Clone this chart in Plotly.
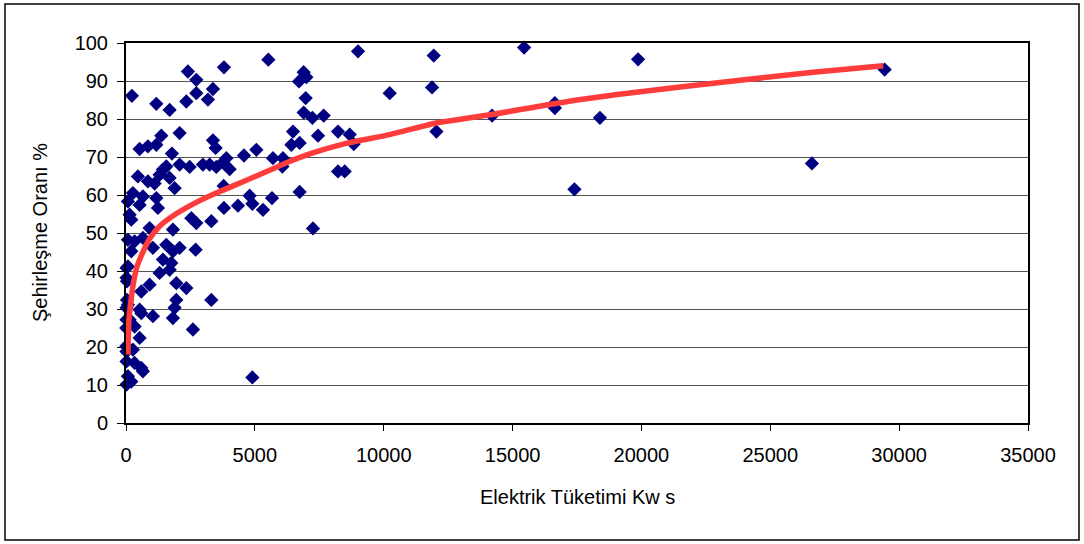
import plotly.graph_objects as go

# Scatter data (Elektrik Tüketimi Kw s vs Şehirleşme Oranı %)
x_kwh = [229, 2403, 2729, 3801, 5524, 2729, 3374, 3180, 2341, 1176, 1693,
         6894, 7000, 6713, 6972, 6894, 9003, 11941, 10233, 11875, 12046,
         7231, 7671, 7451, 8227, 8681, 8836, 6480, 6417, 6739, 8227, 8486,
         6739, 7255, 528, 850, 1176, 1370, 2081, 1782, 3374, 3478, 4577,
         5058, 3894, 3762, 4022, 2081, 2469, 2985, 3245, 3505, 462, 850,
         1432, 1564, 1304, 1693, 1887, 1110, 5703, 6091, 6068, 3789, 4798,
         4903, 4344, 3801, 5315, 5665, 74, 268, 656, 528, 1176, 1238, 140,
         206, 916, 2535, 2729, 3311, 1821, 74, 334, 656, 206, 1044, 1564,
         2081, 1821, 2702, 1432, 1758, 1693, 1304, 20, 74, 20, 40, 916, 594,
         1953, 2341, 1953, 1887, 1821, 3311, 2597, 40, 74, 20, 528, 594,
         1044, 20, 140, 10, 334, 528, 10, 20, 268, 20, 334, 594, 656, 74,
         206, 20, 4903, 14205, 16640, 16640, 17400, 18390, 19870, 15447,
         26616, 29437]
y_pct = [86.1, 92.5, 90.3, 93.6, 95.6, 86.8, 87.9, 85.1, 84.6, 84.0, 82.4,
         92.3, 91.0, 89.9, 85.5, 81.7, 97.8, 96.7, 86.8, 88.3, 76.7,
         80.3, 80.9, 75.6, 76.7, 75.9, 73.4, 76.7, 73.2, 73.7, 66.2, 66.2,
         60.8, 51.2, 72.1, 72.8, 73.2, 75.6, 76.3, 70.9, 74.4, 72.4, 70.4,
         71.9, 69.7, 68.6, 66.8, 68.0, 67.4, 68.0, 68.0, 67.4, 64.9, 63.6,
         66.7, 67.5, 65.3, 64.5, 61.8, 63.0, 69.7, 69.7, 67.5, 62.4, 59.8,
         57.7, 57.2, 56.6, 56.1, 59.2, 58.3, 60.5, 59.6, 57.4, 59.2, 56.6, 54.8,
         53.5, 51.3, 53.9, 52.6, 53.1, 50.9, 48.2, 47.8, 48.7, 45.2, 46.1, 46.9,
         46.1, 45.2, 45.6, 43.0, 42.1, 40.3, 39.5, 40.8, 41.2, 38.2, 37.3, 36.4, 34.6,
         36.8, 35.5, 32.4, 30.3, 27.6, 32.4, 24.6, 32.4, 31.1, 30.3, 29.8, 28.9,
         28.1, 27.2, 27.2, 25.0, 25.4, 22.4, 20.2, 18.8, 19.3, 16.2, 15.8, 14.5, 13.6, 12.3,
         10.9, 10.1, 12.0, 80.9, 84.2, 82.9, 61.5, 80.3, 95.7, 98.8,
         68.3, 93.0]

# Trend line points
trend_x = [75, 113, 190, 268, 420, 656, 916, 1305, 1887, 2600, 3500, 4538,
           5500, 6347, 7128, 8500, 10232, 12000, 14115, 17500, 21750, 26667,
           29383]
trend_y = [18, 27, 32, 36, 41, 45, 48.5, 51.8, 54.8, 57.6, 60.5, 63.5,
           66.3, 68.8, 70.8, 73.5, 75.9, 78.9, 81.1, 85.0, 88.6, 92.3, 94.0]

x_ticks = [0, 5000, 10000, 15000, 20000, 25000, 30000, 35000]
y_ticks = [0, 10, 20, 30, 40, 50, 60, 70, 80, 90, 100]

FONT = "Arial, 'Liberation Sans', sans-serif"

fig = go.Figure()
fig.add_trace(go.Scatter(
    x=x_kwh, y=y_pct, mode="markers",
    marker=dict(symbol="diamond", size=11, color="#000080", line=dict(width=0)),
    cliponaxis=False, showlegend=False))
fig.add_trace(go.Scatter(
    x=trend_x, y=trend_y, mode="lines",
    line=dict(color="rgb(255,60,60)", width=5.5, shape="spline", smoothing=0.6),
    cliponaxis=False, showlegend=False))

fig.update_layout(
    width=1084, height=544,
    margin=dict(l=126, r=56, t=43, b=121),
    paper_bgcolor="white", plot_bgcolor="white",
    font=dict(family=FONT, size=20, color="black"),
    xaxis=dict(range=[0, 35000], tickvals=x_ticks,
               ticktext=[str(v) for v in x_ticks],
               ticks="outside", ticklen=6, tickcolor="black", tickwidth=1,
               showline=True, linecolor="black", linewidth=2, mirror=True,
               showgrid=False, zeroline=False, ticklabelstandoff=7),
    yaxis=dict(range=[0, 100], tickvals=y_ticks,
               ticktext=[str(v) for v in y_ticks],
               ticks="outside", ticklen=7, tickcolor="black", tickwidth=1,
               showline=True, linecolor="black", linewidth=2, mirror=True,
               showgrid=True, gridcolor="#555555", gridwidth=1,
               zeroline=False, ticklabelstandoff=5),
    annotations=[
        dict(text="Elektrik Tüketimi Kw s", xref="paper", yref="paper",
             x=0.5, y=0, yshift=-74, xanchor="center", yanchor="middle",
             showarrow=False, font=dict(family=FONT, size=20)),
        dict(text="Şehirleşme Oranı %", xref="paper", yref="paper",
             x=0, y=0.5, xshift=-86, xanchor="center", yanchor="middle",
             textangle=-90, showarrow=False, font=dict(family=FONT, size=20)),
    ],
    shapes=[dict(type="rect", xref="paper", yref="paper",
                 x0=(5 - 126) / 902, x1=(1079 - 126) / 902,
                 y0=(423 - 540) / 380, y1=(423 - 4) / 380,
                 line=dict(color="black", width=1.5), layer="below")],
)

fig.write_html("out.html")
